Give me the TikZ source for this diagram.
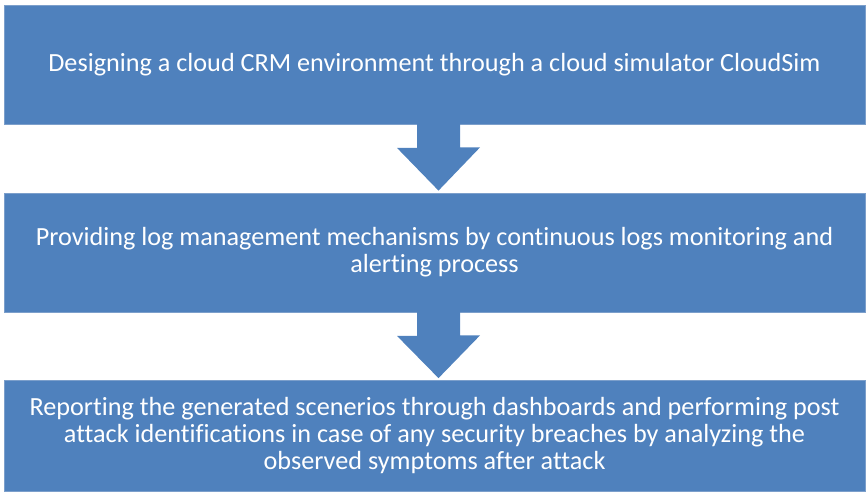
\documentclass[tikz,border=0pt]{standalone}
\usepackage{fontspec}
\setmainfont[Ligatures={NoCommon,NoContextual}]{Carlito}
\usetikzlibrary{calc}
\definecolor{boxblue}{HTML}{4F81BD}
\definecolor{boxedge}{HTML}{7C9FCB}
\begin{document}
\begin{tikzpicture}[x=1pt,y=-1pt,
  stepbox/.style={fill=boxblue, draw=boxedge, line width=0.8pt,
    minimum width=861pt, inner sep=0pt, text=white, align=center,
    font=\fontsize{26.2}{27}\selectfont}]
  \useasboundingbox (0,0) rectangle (868,496);

  % Steps
  \node[stepbox, minimum height=119pt] (design) at (434.5,64.5)
    {Designing a cloud CRM environment through a cloud simulator CloudSim};
  \node[stepbox, minimum height=119pt] (monitor) at (434.5,252.5)
    {Providing log management mechanisms by continuous logs monitoring and\\
     alerting process};
  \node[stepbox, minimum height=111pt] (report) at (434.5,436)
    {Reporting the generated scenerios through dashboards and performing post\\
     attack identifications in case of any security breaches by analyzing the\\
     observed symptoms after attack};

  % Block arrows
  \foreach \a/\b in {design/monitor, monitor/report}
    \fill[boxblue] ($(\a.south)+(-17.5,-0.5)$) -- ++(0,24) -- ++(-20,0)
      -- ($(\b.north)+(4,-2)$) -- ($(\a.south)+(45.5,23)$)
      -- ++(-20,0) -- ++(0,-23.5) -- cycle;
\end{tikzpicture}
\end{document}
